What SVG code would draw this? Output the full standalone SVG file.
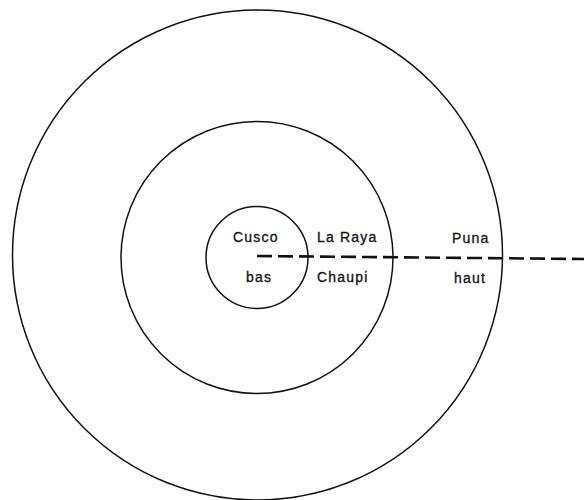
<svg xmlns="http://www.w3.org/2000/svg" width="584" height="500" viewBox="0 0 584 500">
<style>
.ring{fill:none;stroke:#111;stroke-width:1.5}
.lbl{font-family:"Liberation Sans",Arial,sans-serif;font-size:14px;letter-spacing:1.2px;fill:#111;stroke:#111;stroke-width:0.3}
.dash{stroke:#111;stroke-width:2.6;stroke-dasharray:15 6;fill:none}
</style>
<rect width="584" height="500" fill="#fff"/>
<g id="outer"><circle class="ring" cx="257.5" cy="255" r="245"/></g>
<g id="middle"><circle class="ring" cx="257" cy="257.5" r="136"/></g>
<g id="inner"><circle class="ring" cx="257" cy="257.5" r="51"/></g>
<g id="connectors"><line class="dash" x1="257" y1="256" x2="584" y2="259"/></g>
<g id="labels">
<text class="lbl" x="233" y="242">Cusco</text>
<text class="lbl" x="317" y="242">La Raya</text>
<text class="lbl" x="452" y="242.5">Puna</text>
<text class="lbl" x="246" y="282">bas</text>
<text class="lbl" x="317" y="282">Chaupi</text>
<text class="lbl" x="454" y="283">haut</text>
</g>
</svg>
